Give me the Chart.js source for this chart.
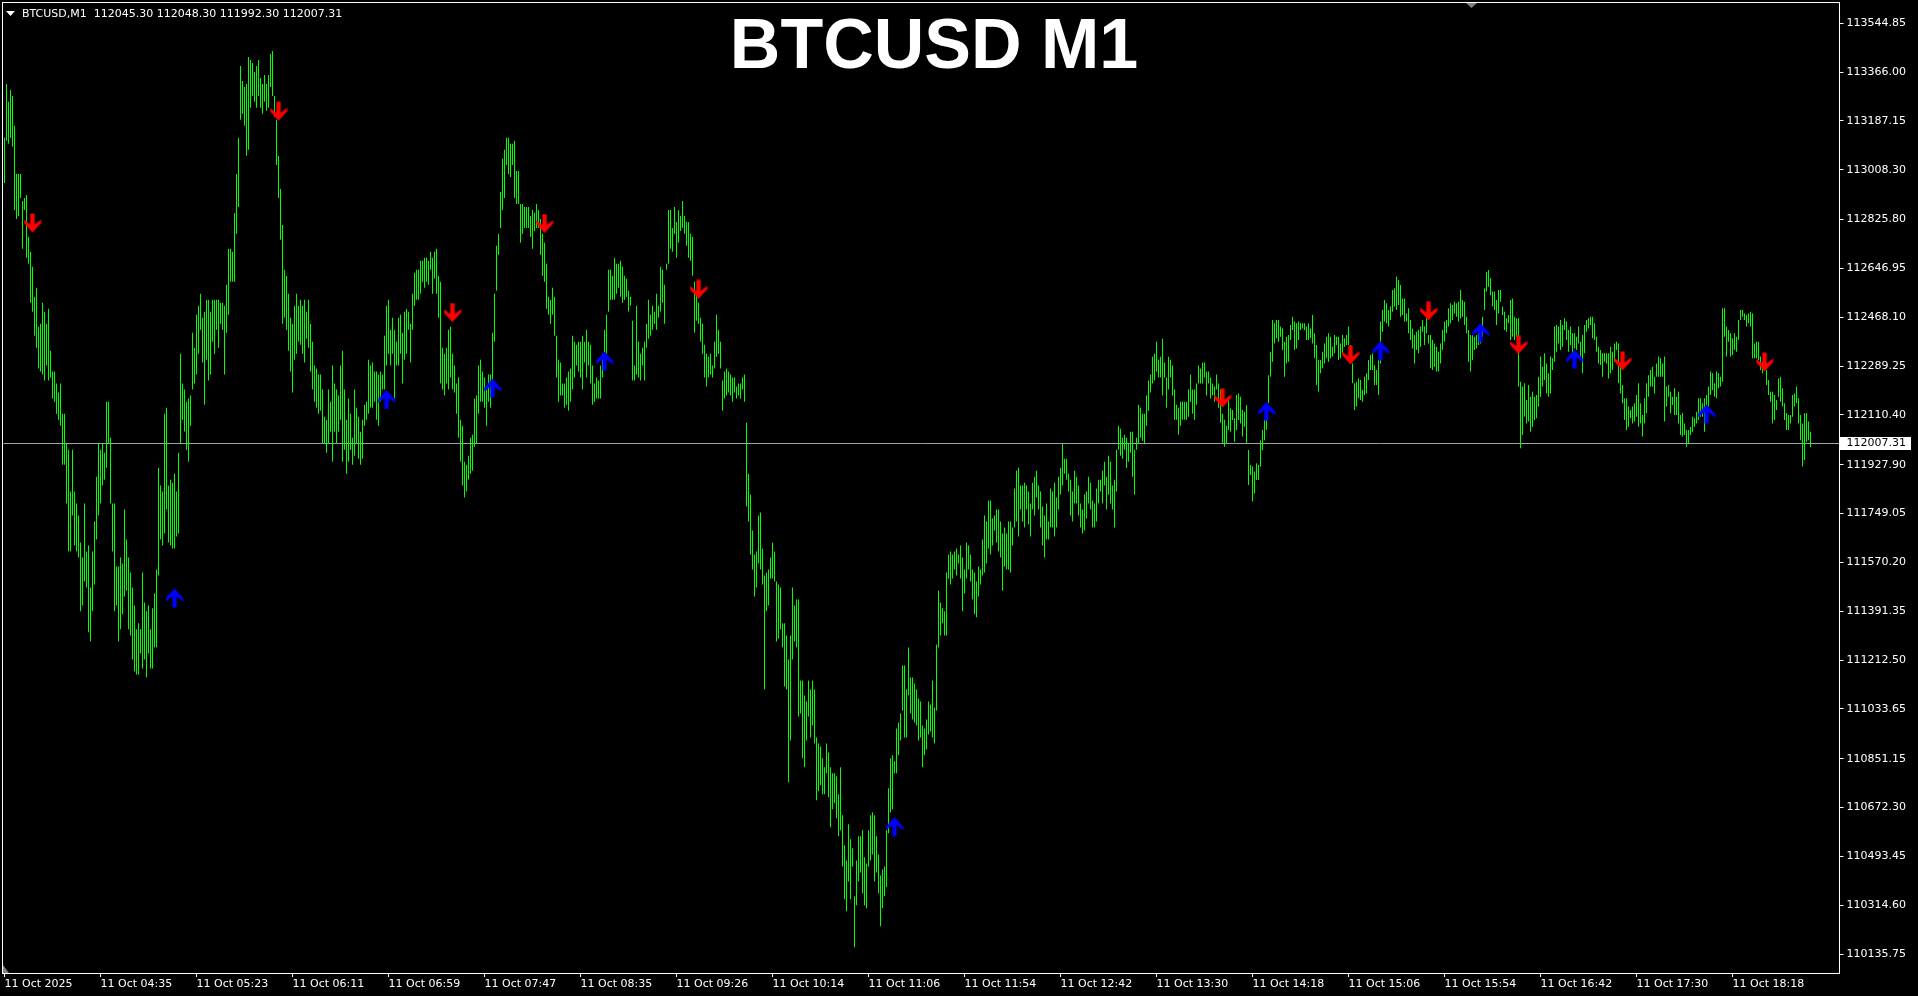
<!DOCTYPE html>
<html>
<head>
<meta charset="utf-8">
<title>BTCUSD M1</title>
<script src="https://cdn.jsdelivr.net/npm/chart.js@4.4.1/dist/chart.umd.min.js"></script>
<style>
  html, body { margin: 0; padding: 0; background: #000; overflow: hidden; }
  #wrap { width: 1918px; height: 996px; }
</style>
</head>
<body>
<div id="wrap"><canvas id="chart"></canvas></div>
<script>
const symbol = 'BTCUSD,M1';
const lastBar = [112045.30, 112048.30, 111992.30, 112007.31]; // O H L C
const bid = 112007.31;

const timeTicks = ['11 Oct 2025', '11 Oct 04:35', '11 Oct 05:23', '11 Oct 06:11', '11 Oct 06:59',
  '11 Oct 07:47', '11 Oct 08:35', '11 Oct 09:26', '11 Oct 10:14', '11 Oct 11:06', '11 Oct 11:54',
  '11 Oct 12:42', '11 Oct 13:30', '11 Oct 14:18', '11 Oct 15:06', '11 Oct 15:54', '11 Oct 16:42',
  '11 Oct 17:30', '11 Oct 18:18'];

const priceTicks = [113544.85, 113366.00, 113187.15, 113008.30, 112825.80, 112646.95, 112468.10,
  112289.25, 112110.40, 111927.90, 111749.05, 111570.20, 111391.35, 111212.50, 111033.65,
  110851.15, 110672.30, 110493.45, 110314.60, 110135.75];

// one value per M1 bar
const highs = [
  113125, 113322, 113257, 113300, 113278, 113169, 112993, 112993, 112993, 112894,
  112905, 112916, 112763, 112708, 112653, 112543, 112576, 112433, 112444, 112521,
  112488, 112444, 112499, 112345, 112269, 112269, 112225, 112192, 112225, 112115,
  112115, 112005, 111983, 111830, 111983, 111830, 111786, 111742, 111643, 111588,
  111786, 111610, 111632, 111478, 111610, 111720, 111884, 112005, 111983, 112005,
  111972, 112159, 112159, 112027, 111786, 111786, 111555, 111555, 111588, 111566,
  111764, 111654, 111588, 111533, 111478, 111412, 111325, 111347, 111325, 111533,
  111423, 111391, 111412, 111325, 111402, 111456, 111544, 111917, 111852, 111830,
  112115, 112137, 111852, 111873, 111862, 111895, 111830, 111972, 112334, 112225,
  112203, 112159, 112170, 112181, 112411, 112356, 112477, 112510, 112554, 112466,
  112488, 112532, 112532, 112488, 112532, 112532, 112532, 112532, 112521, 112521,
  112510, 112587, 112719, 112719, 112708, 112850, 112993, 113125, 113388, 113333,
  113311, 113322, 113421, 113410, 113399, 113366, 113388, 113410, 113344, 113322,
  113355, 113322, 113355, 113432, 113443, 113278, 113191, 113059, 112938, 112806,
  112642, 112620, 112554, 112466, 112444, 112510, 112554, 112510, 112532, 112510,
  112532, 112488, 112532, 112444, 112378, 112291, 112280, 112258, 112258, 112203,
  112104, 112093, 112203, 112159, 112291, 112225, 112203, 112181, 112291, 112345,
  112203, 112093, 112170, 112115, 112027, 112203, 112137, 112104, 112049, 112093,
  112148, 112159, 112312, 112291, 112302, 112269, 112269, 112258, 112269, 112258,
  112400, 112510, 112532, 112422, 112466, 112422, 112378, 112466, 112477, 112411,
  112488, 112499, 112488, 112444, 112554, 112631, 112642, 112642, 112675, 112675,
  112686, 112686, 112675, 112708, 112686, 112708, 112719, 112620, 112598, 112356,
  112334, 112356, 112422, 112433, 112334, 112291, 112225, 112247, 112093, 112071,
  111939, 111928, 111961, 112027, 112038, 112170, 112181, 112291, 112312, 112269,
  112247, 112203, 112258, 112258, 112411, 112554, 112730, 112774, 112927, 113048,
  113081, 113125, 113125, 113103, 113103, 113114, 113004, 113004, 112883, 112883,
  112872, 112872, 112872, 112839, 112861, 112850, 112883, 112861, 112828, 112774,
  112741, 112664, 112543, 112532, 112576, 112543, 112400, 112312, 112302, 112225,
  112225, 112247, 112269, 112280, 112400, 112378, 112367, 112378, 112378, 112400,
  112378, 112422, 112378, 112367, 112291, 112225, 112247, 112236, 112291, 112334,
  112422, 112477, 112642, 112642, 112620,
  112686, 112664, 112664, 112675, 112653, 112620, 112609, 112565, 112543, 112455,
  112291, 112510, 112378, 112334, 112356, 112378, 112444, 112532, 112477, 112510,
  112488, 112554, 112510, 112653, 112642, 112587, 112664, 112861, 112861, 112795,
  112872, 112817, 112861, 112839, 112894, 112839, 112817, 112817, 112774, 112763,
  112598, 112554, 112521, 112466, 112444, 112367, 112334, 112323, 112334, 112291,
  112378, 112477, 112422, 112378, 112236, 112269, 112280, 112269, 112258, 112247,
  112247, 112214, 112225, 112225, 112247, 112258, 112082, 111895, 111819, 111687,
  111599, 111610, 111742, 111753, 111621, 111522, 111533, 111544, 111588, 111643,
  111610, 111500, 111489, 111478, 111347, 111347, 111303, 111215, 111303, 111478,
  111412, 111434, 111434, 111138, 111138, 111083, 111061, 111138, 111105, 111138,
  111105, 110929, 110907, 110896, 110853, 110820, 110907, 110874, 110820, 110798,
  110798, 110787, 110721, 110820, 110644, 110534, 110479, 110611, 110556, 110523,
  110348, 110479, 110567, 110567, 110589, 110490, 110468, 110589, 110644, 110655,
  110644, 110567, 110501, 110424, 110446, 110457, 110589, 110743, 110853, 110864,
  110842, 110962, 110984, 111017, 111193, 111193, 111105, 111259, 111149, 111149,
  111127, 111105, 111072, 111061, 110973, 110962, 110995, 111061, 111050, 111138,
  111039, 111270, 111467, 111423, 111402, 111391, 111533, 111599, 111610, 111599,
  111610, 111621, 111599, 111632, 111588, 111544, 111643, 111632, 111599, 111544,
  111533, 111500, 111555, 111544, 111654, 111742, 111720, 111797, 111797, 111731,
  111742, 111764, 111764, 111720, 111676, 111698, 111676, 111720, 111720, 111698,
  111841, 111906, 111917, 111852, 111852, 111862, 111852, 111830, 111786, 111862,
  111884, 111906, 111852, 111830, 111775, 111742, 111786, 111720, 111841, 111830,
  111862, 111808, 111884, 111917, 112005, 111950, 111950, 111895, 111873, 111830,
  111906, 111884, 111852, 111786, 111764, 111819, 111830, 111884, 111862, 111797,
  111786, 111841, 111873, 111873, 111906, 111939, 111884, 111961, 111939, 111852,
  111873, 111983, 112071, 112060, 112027, 112038, 112027, 112005, 112049, 112049,
  111983, 112027, 112148, 112137, 112115, 112115, 112181, 112236, 112258, 112323,
  112334, 112378, 112312, 112323, 112389, 112302, 112247, 112323, 112312, 112291,
  112203, 112148, 112137, 112159, 112159, 112159, 112159, 112203, 112258, 112203,
  112203, 112225, 112291, 112280, 112302, 112302, 112269, 112269, 112247, 112225,
  112214, 112258, 112225, 112203, 112115, 112093, 112071,
  112177, 112134, 112128, 112098, 112183, 112189, 112177, 112128, 112122, 112147,
  111982, 111927, 111921, 111903, 111933, 111927, 112018, 112055, 112092, 112098,
  112256, 112342, 112458, 112446, 112458, 112458, 112434, 112427, 112378, 112397,
  112403, 112440, 112470, 112452, 112446, 112452, 112446, 112446, 112446, 112434,
  112446, 112427, 112476, 112409, 112366, 112311, 112311, 112342, 112372, 112397,
  112409, 112397, 112360, 112403, 112397, 112397, 112372, 112403, 112391, 112403,
  112434, 112366, 112299, 112226, 112232, 112244, 112238, 112202, 112250, 112263,
  112311, 112330, 112336, 112293, 112275, 112311, 112452, 112495, 112531, 112519,
  112495, 112507, 112568, 112574, 112617, 112604, 112586, 112537, 112537, 112482,
  112501, 112458, 112427, 112403, 112415, 112421, 112434, 112458, 112434, 112464,
  112403, 112403, 112385, 112372, 112360, 112342, 112372, 112421, 112452, 112458,
  112501, 112519, 112513, 112525, 112519, 112525, 112568, 112531, 112525, 112470,
  112421, 112403, 112403, 112397, 112403, 112409, 112427, 112470, 112574, 112635,
  112641, 112611, 112562, 112562, 112531, 112568, 112568, 112507, 112488, 112464,
  112476, 112531, 112537, 112470, 112464, 112464, 112232, 112214, 112226, 112165,
  112220, 112177, 112195, 112177, 112183, 112250, 112324, 112287, 112336, 112299,
  112263, 112324, 112318, 112434, 112440, 112434, 112458, 112440, 112464, 112452,
  112421, 112434, 112409, 112409, 112397, 112434, 112378, 112403, 112440, 112458,
  112464, 112470, 112470, 112446, 112397, 112360, 112348, 112336, 112336, 112336,
  112336, 112360, 112342, 112372, 112378, 112372, 112287, 112220, 112171, 112171,
  112141, 112128, 112141, 112153, 112183, 112226, 112153, 112110, 112171, 112226,
  112256, 112275, 112287, 112250, 112299, 112324, 112318, 112299, 112324, 112214,
  112220, 112195, 112177, 112208, 112177, 112195, 112110, 112116, 112079, 112055,
  112055, 112067, 112104, 112098, 112122, 112171, 112171, 112153, 112171, 112183,
  112214, 112269, 112263, 112226, 112269, 112263, 112250, 112501, 112501, 112434,
  112421, 112409, 112391, 112409, 112397, 112458, 112495, 112495, 112482, 112476,
  112482, 112488, 112482, 112372, 112378, 112378, 112324, 112305, 112311, 112275,
  112238, 112195, 112195, 112183, 112165, 112244, 112250, 112208, 112153, 112116,
  112110, 112110, 112183, 112189, 112214, 112171, 112110, 112079, 112116, 112116,
  112086, 112048.30
];

const lows = [
  112960, 113114, 113103, 113125, 113092, 112861, 112828, 112839, 112905, 112719,
  112861, 112686, 112664, 112521, 112488, 112400, 112356, 112280, 112269, 112258,
  112236, 112291, 112236, 112247, 112170, 112159, 112115, 112093, 112071, 111928,
  111928, 111786, 111610, 111610, 111742, 111632, 111610, 111588, 111391, 111412,
  111500, 111478, 111314, 111281, 111391, 111489, 111654, 111742, 111786, 111852,
  111873, 111917, 112005, 111786, 111610, 111391, 111412, 111281, 111325, 111380,
  111445, 111467, 111325, 111303, 111215, 111171, 111160, 111160, 111237, 111182,
  111215, 111149, 111237, 111182, 111182, 111259, 111259, 111522, 111654, 111632,
  111676, 111764, 111643, 111632, 111621, 111621, 111665, 111676, 112005, 112093,
  112049, 111983, 111939, 112071, 112203, 112225, 112258, 112334, 112422, 112302,
  112148, 112312, 112236, 112258, 112378, 112334, 112422, 112356, 112444, 112422,
  112258, 112411, 112477, 112598, 112598, 112598, 112774, 112872, 113191, 113213,
  113169, 113059, 113081, 113235, 113278, 113257, 113235, 113278, 113235, 113213,
  113257, 113224, 113235, 113311, 113278, 113202, 113026, 112905, 112752, 112444,
  112466, 112422, 112345, 112269, 112192, 112312, 112334, 112378, 112367, 112334,
  112302, 112389, 112356, 112269, 112203, 112159, 112137, 112115, 112126, 112005,
  112005, 111972, 112005, 112049, 111939, 112049, 112005, 112049, 112093, 111939,
  111983, 111895, 111939, 111983, 111928, 111961, 112005, 111950, 111928, 111950,
  112071, 112093, 112115, 112137, 112137, 112159, 112093, 112071, 112159, 112203,
  112203, 112291, 112334, 112291, 112334, 112170, 112291, 112291, 112334, 112225,
  112312, 112334, 112422, 112302, 112422, 112510, 112532, 112532, 112554, 112598,
  112576, 112598, 112587, 112642, 112554, 112609, 112554, 112466, 112225, 112203,
  112181, 112225, 112203, 112247, 112203, 112192, 112115, 112027, 111939, 111852,
  111808, 111830, 111873, 111895, 111906, 111994, 112005, 112115, 112159, 112159,
  112137, 112071, 112159, 112137, 112203, 112378, 112565, 112697, 112795, 112861,
  112905, 113026, 112993, 112982, 113026, 112905, 112883, 112883, 112741, 112774,
  112795, 112795, 112795, 112763, 112719, 112784, 112795, 112795, 112697, 112620,
  112598, 112499, 112477, 112444, 112477, 112400, 112247, 112159, 112181, 112181,
  112137, 112148, 112126, 112159, 112203, 112247, 112291, 112269, 112247, 112203,
  112302, 112247, 112291, 112225, 112148, 112159, 112170, 112170, 112170, 112247,
  112312, 112334, 112488, 112532, 112532,
  112532, 112554, 112576, 112543, 112521, 112532, 112543, 112488, 112510, 112236,
  112236, 112258, 112247, 112236, 112291, 112236, 112356, 112389, 112400, 112422,
  112444, 112422, 112466, 112488, 112521, 112444, 112642, 112664, 112719, 112708,
  112774, 112686, 112741, 112784, 112795, 112774, 112730, 112686, 112675, 112620,
  112411, 112455, 112444, 112378, 112334, 112247, 112214, 112247, 112258, 112247,
  112280, 112323, 112334, 112280, 112126, 112170, 112181, 112192, 112181, 112159,
  112192, 112170, 112181, 112170, 112203, 112159, 111775, 111720, 111599, 111544,
  111445, 111478, 111566, 111544, 111489, 111105, 111391, 111412, 111511, 111511,
  111500, 111281, 111292, 111325, 111259, 111116, 111105, 110765, 110918, 111215,
  111281, 111259, 111006, 111017, 110853, 110820, 110918, 111006, 110929, 110973,
  110907, 110699, 110732, 110754, 110721, 110721, 110798, 110710, 110600, 110666,
  110688, 110633, 110567, 110589, 110457, 110337, 110293, 110402, 110337, 110457,
  110161, 110315, 110402, 110435, 110359, 110315, 110304, 110457, 110479, 110501,
  110402, 110435, 110359, 110238, 110304, 110348, 110381, 110578, 110655, 110666,
  110798, 110798, 110864, 110918, 111028, 110929, 110929, 111083, 111017, 110995,
  110984, 110973, 110918, 110929, 110820, 110864, 110885, 110940, 110951, 110929,
  110907, 111028, 111259, 111303, 111347, 111303, 111303, 111511, 111489, 111511,
  111544, 111522, 111566, 111511, 111391, 111456, 111511, 111544, 111500, 111434,
  111380, 111369, 111445, 111489, 111522, 111533, 111566, 111621, 111599, 111632,
  111687, 111643, 111610, 111588, 111467, 111555, 111544, 111544, 111533, 111632,
  111698, 111720, 111665, 111764, 111720, 111698, 111764, 111709, 111665, 111764,
  111742, 111808, 111764, 111698, 111632, 111588, 111654, 111654, 111698, 111698,
  111665, 111698, 111764, 111819, 111852, 111895, 111873, 111830, 111742, 111720,
  111786, 111786, 111742, 111698, 111676, 111687, 111731, 111786, 111764, 111698,
  111698, 111720, 111786, 111830, 111786, 111852, 111764, 111819, 111786, 111764,
  111698, 111830, 111983, 111961, 111950, 111983, 111917, 111939, 111972, 111884,
  111819, 111983, 112005, 112027, 112016, 112005, 112071, 112126, 112192, 112225,
  112236, 112269, 112247, 112247, 112181, 112247, 112137, 112203, 112247, 112181,
  112093, 112093, 112038, 112071, 112093, 112093, 112093, 112104, 112159, 112115,
  112093, 112148, 112225, 112225, 112225, 112247, 112181, 112225, 112170, 112181,
  112159, 112203, 112137, 112082, 112005, 111994, 112005,
  112055, 112049, 112092, 112012, 112055, 112092, 112079, 112031, 112067, 112006,
  111854, 111890, 111793, 111823, 111872, 111872, 111921, 111982, 112018, 112055,
  112153, 112250, 112305, 112372, 112391, 112378, 112397, 112348, 112250, 112299,
  112305, 112385, 112421, 112348, 112354, 112385, 112421, 112427, 112421, 112385,
  112385, 112391, 112372, 112318, 112220, 112195, 112263, 112281, 112299, 112318,
  112305, 112318, 112324, 112336, 112366, 112311, 112318, 112336, 112360, 112366,
  112366, 112299, 112226, 112128, 112141, 112171, 112165, 112159, 112183, 112189,
  112238, 112275, 112275, 112220, 112220, 112183, 112299, 112415, 112452, 112446,
  112434, 112458, 112488, 112507, 112495, 112513, 112470, 112476, 112452, 112452,
  112409, 112385, 112354, 112299, 112348, 112336, 112360, 112415, 112366, 112409,
  112372, 112281, 112275, 112287, 112269, 112269, 112299, 112348, 112378, 112409,
  112434, 112446, 112458, 112482, 112470, 112452, 112464, 112470, 112440, 112409,
  112305, 112269, 112311, 112348, 112354, 112366, 112372, 112397, 112495, 112562,
  112580, 112549, 112507, 112495, 112440, 112482, 112525, 112476, 112421, 112415,
  112446, 112385, 112397, 112385, 112397, 112214, 111988, 112037, 112104, 112079,
  112086, 112049, 112067, 112092, 112098, 112141, 112177, 112214, 112238, 112189,
  112177, 112189, 112275, 112305, 112342, 112372, 112348, 112360, 112421, 112385,
  112342, 112366, 112324, 112354, 112348, 112372, 112324, 112263, 112336, 112415,
  112427, 112440, 112391, 112385, 112342, 112299, 112293, 112250, 112305, 112299,
  112244, 112263, 112275, 112305, 112348, 112226, 112189, 112153, 112092, 112055,
  112067, 112098, 112079, 112086, 112104, 112067, 112079, 112031, 112079, 112116,
  112177, 112214, 112214, 112189, 112250, 112250, 112250, 112250, 112086, 112141,
  112177, 112116, 112147, 112110, 112110, 112079, 112037, 112031, 112037, 111994,
  112006, 112037, 112049, 112067, 112079, 112092, 112104, 112104, 112049, 112128,
  112141, 112183, 112202, 112177, 112171, 112208, 112214, 112232, 112397, 112324,
  112378, 112324, 112330, 112348, 112342, 112385, 112458, 112470, 112458, 112434,
  112446, 112434, 112318, 112318, 112318, 112311, 112275, 112263, 112281, 112220,
  112183, 112159, 112079, 112092, 112128, 112177, 112159, 112141, 112092, 112055,
  112055, 112079, 112104, 112141, 112153, 112079, 112018, 111921, 111945, 112012,
  112018, 111992.30
];

// indicator arrows: [bar index, price]
const sellArrows = [[14, 112813], [137, 113222], [224, 112485], [270, 112811], [347, 112570],
  [609, 112172], [673, 112330], [712, 112491], [757, 112368], [809, 112308], [880, 112304]];
const buyArrows = [[85, 111440], [191, 112167], [244, 112209], [300, 112308], [445, 110603],
  [631, 112123], [688, 112346], [738, 112412], [785, 112315], [851, 112114]];

const BAR_SLOTS = 918;   // visible slots incl. chart shift on the right
const labels = Array.from({ length: BAR_SLOTS }, (_, i) => i);
const axisFont = { family: 'DejaVu Sans', size: 11 };

function arrowImage(color, up) {
  const c = document.createElement('canvas');
  c.width = 18;
  c.height = 20;
  const g = c.getContext('2d');
  g.translate(9, 10);
  if (!up) g.scale(1, -1);
  g.fillStyle = color;
  g.beginPath();
  [[0, -9.5], [8.5, 0], [8.5, 3.5], [2.2, -1.5], [2.2, 9.5], [-2.2, 9.5], [-2.2, -1.5], [-8.5, 3.5], [-8.5, 0]]
    .forEach(([x, y], i) => i ? g.lineTo(x, y) : g.moveTo(x, y));
  g.closePath();
  g.fill();
  return c;
}

// MT4 scales carry no extra label padding around the plot
function noScalePadding(s) {
  s.paddingTop = 0;
  s.paddingBottom = 0;
  s.paddingLeft = 0;
  s.paddingRight = 0;
}

const mt4Decor = {
  id: 'mt4Decor',
  beforeDraw(chart) {
    const { ctx, width, height } = chart;
    ctx.save();
    ctx.fillStyle = '#000';
    ctx.fillRect(0, 0, width, height);
    ctx.restore();
  },
  beforeDatasetsDraw(chart) {
    const { ctx, chartArea: a } = chart;
    const py = Math.round(chart.scales.y.getPixelForValue(bid)) + 0.5;
    ctx.save();
    ctx.strokeStyle = '#9aa3ac';
    ctx.lineWidth = 1;
    ctx.beginPath();
    ctx.moveTo(a.left, py);
    ctx.lineTo(a.right, py);
    ctx.stroke();
    ctx.restore();
  },
  afterDraw(chart) {
    const { ctx, chartArea: a } = chart;
    ctx.save();
    // frame
    ctx.strokeStyle = '#ffffff';
    ctx.lineWidth = 1;
    const l = Math.floor(a.left) - 0.5, t = Math.floor(a.top) - 0.5;
    const r = Math.floor(a.right) + 0.5, b = Math.floor(a.bottom) + 0.5;
    ctx.strokeRect(l, t, r - l, b - t);

    // bid price label
    const py = Math.round(chart.scales.y.getPixelForValue(bid));
    ctx.fillStyle = '#ffffff';
    ctx.fillRect(r + 0.5, py - 6, 71, 13);
    ctx.fillStyle = '#000000';
    ctx.font = '11px "DejaVu Sans"';
    ctx.textBaseline = 'middle';
    ctx.textAlign = 'left';
    ctx.fillText(bid.toFixed(2), r + 7, py + 0.5);

    // header
    ctx.fillStyle = '#ffffff';
    ctx.beginPath();
    ctx.moveTo(6, 11); ctx.lineTo(15, 11); ctx.lineTo(10.5, 16);
    ctx.closePath();
    ctx.fill();
    ctx.textBaseline = 'alphabetic';
    ctx.fillText(symbol + '  ' + lastBar.map(v => v.toFixed(2)).join(' '), 22, 17);

    // title
    ctx.font = 'bold 70px "Liberation Sans", Arial, sans-serif';
    ctx.textAlign = 'center';
    ctx.fillText('BTCUSD M1', 934, 68);

    // chart shift marker and scroll marker
    ctx.fillStyle = '#808080';
    ctx.beginPath();
    ctx.moveTo(1466, 3); ctx.lineTo(1477, 3); ctx.lineTo(1471.5, 8);
    ctx.closePath();
    ctx.fill();
    ctx.beginPath();
    ctx.moveTo(3, 965); ctx.lineTo(3, 973); ctx.lineTo(9, 973);
    ctx.closePath();
    ctx.fill();
    ctx.restore();
  }
};

new Chart(document.getElementById('chart'), {
  type: 'bar',
  data: {
    labels: labels,
    datasets: [
      {
        type: 'line',
        data: sellArrows.map(([x, y]) => ({ x, y })),
        showLine: false,
        pointStyle: arrowImage('#ff0000', false),
        pointRadius: 8,
        clip: false
      },
      {
        type: 'line',
        data: buyArrows.map(([x, y]) => ({ x, y })),
        showLine: false,
        pointStyle: arrowImage('#0000ff', true),
        pointRadius: 8,
        clip: false
      },
      {
        type: 'bar',
        data: highs.map((h, i) => [lows[i], h]),
        backgroundColor: '#00ff00',
        borderWidth: 0,
        borderSkipped: false,
        inflateAmount: 0,
        barThickness: 1
      }
    ]
  },
  options: {
    responsive: true,
    maintainAspectRatio: false,
    devicePixelRatio: 1,
    animation: false,
    events: [],
    layout: { autoPadding: false, padding: { left: 3.5, top: 3, right: 0, bottom: 0 } },
    plugins: {
      legend: { display: false },
      tooltip: { enabled: false },
      title: { display: false }
    },
    scales: {
      x: {
        type: 'category',
        offset: true,
        grid: { drawOnChartArea: false, drawTicks: true, tickLength: 4, color: '#ffffff', offset: false },
        border: { display: false },
        ticks: {
          color: '#ffffff',
          font: axisFont,
          align: 'start',
          maxRotation: 0,
          autoSkip: false,
          padding: 1,
          callback: (v) => timeTicks[v / 48]
        },
        afterBuildTicks: (s) => {
          s.ticks = s.ticks.filter(t => t.value % 48 === 0 && t.value / 48 < timeTicks.length);
        },
        afterFit: (s) => { s.height = 23; noScalePadding(s); }
      },
      y: {
        position: 'right',
        min: 110066.6,
        max: 113618.8,
        grid: { drawOnChartArea: false, drawTicks: true, tickLength: 4, color: '#ffffff' },
        border: { display: false },
        ticks: {
          color: '#ffffff',
          font: axisFont,
          padding: 3,
          autoSkip: false,
          callback: (v) => Number(v).toFixed(2)
        },
        afterBuildTicks: (s) => { s.ticks = priceTicks.map(v => ({ value: v })); },
        afterFit: (s) => { s.width = 78.5; noScalePadding(s); }
      }
    }
  },
  plugins: [mt4Decor]
});
</script>
</body>
</html>
